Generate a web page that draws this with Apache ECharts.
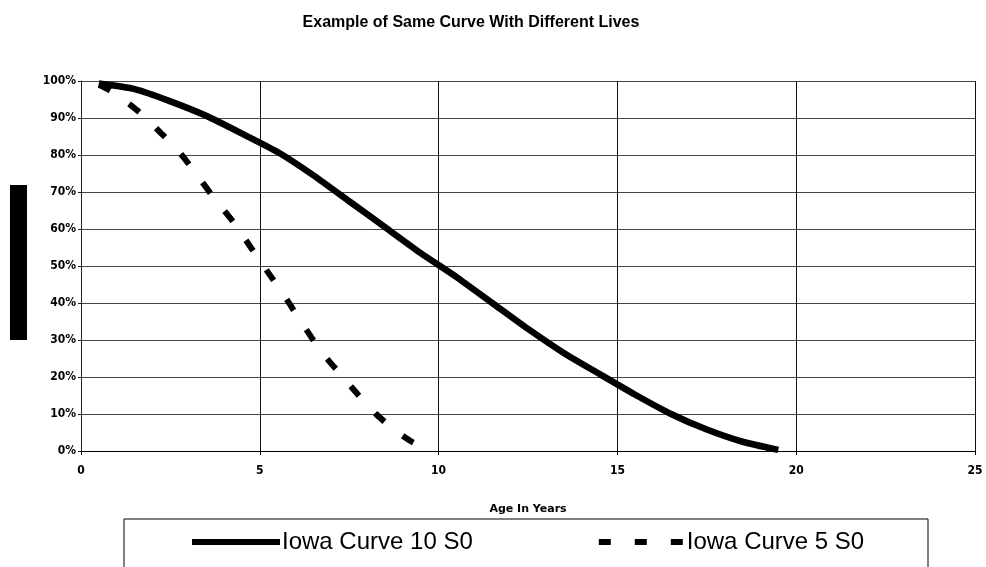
<!DOCTYPE html>
<html>
<head>
<meta charset="utf-8">
<script src="https://cdn.jsdelivr.net/npm/echarts@6/dist/echarts.min.js"></script>
<style>
  html, body { margin: 0; padding: 0; background: #fff; }
  #chart { width: 986px; height: 567px; }
</style>
</head>
<body>
<div id="chart"></div>
<script>
// Iowa Curve 10 S0 - percent surviving by age
const ages10 = [0.5, 1.5, 2.5, 3.5, 4.5, 5.5, 6.5, 7.5, 8.5, 9.5,
  10.5, 11.5, 12.5, 13.5, 14.5, 15.5, 16.5, 17.5, 18.5, 19.5];
const surviving10 = [99.3, 97.8, 94.5, 90.6, 85.8, 80.8, 74.5, 67.5, 60.5, 53.5,
  47, 40, 33, 26.5, 20.8, 15.2, 10, 5.8, 2.5, 0.3];

// Iowa Curve 5 S0
const ages5 = [0.5, 0.75, 1.25, 1.75, 2.25, 2.75, 3.25, 3.75, 4.25, 4.75,
  5.25, 5.75, 6.25, 6.75, 7.25, 7.75, 8.25, 8.75, 9.25, 9.6];
const surviving5 = [99, 97.8, 94.5, 90.6, 85.8, 80.8, 74.5, 68, 62, 55,
  48, 41, 33.5, 26.5, 20.8, 15.2, 10, 5.8, 2.5, 0.8];

const seriesNames = ["Iowa Curve 10 S0", "Iowa Curve 5 S0"];
const xTicks = { min: 0, max: 25, step: 5 };
const yTicks = { min: 0, max: 100, step: 10 };

const zip = (xs, ys) => xs.map((x, i) => [x, ys[i]]);

const labelFont = "'Liberation Sans Narrow', 'DejaVu Sans Condensed', 'Liberation Sans', sans-serif";

const chart = echarts.init(document.getElementById("chart"));
chart.setOption({
  animation: false,
  backgroundColor: "#fff",
  title: {
    text: "Example of Same Curve With Different Lives",
    left: 466,
    top: 10,
    textAlign: "center",
    textStyle: {
      fontFamily: "'Liberation Sans', Arial, sans-serif",
      fontWeight: "bold",
      fontSize: 16,
      color: "#000"
    }
  },
  grid: {
    left: 81,
    top: 81,
    width: 894,
    height: 370
  },
  legend: {
    left: 187,
    top: 525,
    itemWidth: 88,
    itemHeight: 6,
    itemGap: 126,
    textStyle: {
      fontFamily: "'Liberation Sans', Arial, sans-serif",
      fontSize: 24,
      color: "#000",
      padding: [0, 0, 0, -3]
    },
    data: [
      { name: seriesNames[0], icon: "rect" },
      {
        name: seriesNames[1],
        icon: "path://M0,0h12v6h-12z M36,0h12v6h-12z M72,0h12v6h-12z"
      }
    ]
  },
  xAxis: {
    type: "value",
    min: xTicks.min,
    max: xTicks.max,
    interval: xTicks.step,
    name: "Age In Years",
    nameLocation: "middle",
    nameGap: 53,
    nameTextStyle: {
      fontFamily: "'DejaVu Sans', sans-serif",
      fontWeight: "bold",
      fontSize: 11,
      color: "#000"
    },
    axisLine: { show: true, lineStyle: { color: "#000", width: 1 } },
    axisTick: { show: true, length: 4, lineStyle: { color: "#000" } },
    axisLabel: {
      margin: 14,
      fontFamily: labelFont,
      fontWeight: "bold",
      fontSize: 12,
      color: "#000"
    },
    splitLine: { show: true, lineStyle: { color: "#111", width: 1 } }
  },
  yAxis: {
    type: "value",
    min: yTicks.min,
    max: yTicks.max,
    interval: yTicks.step,
    axisLine: { show: true, lineStyle: { color: "#222", width: 1 } },
    axisTick: { show: true, length: 3, lineStyle: { color: "#222" } },
    axisLabel: {
      margin: 5,
      formatter: "{value}%",
      fontFamily: labelFont,
      fontWeight: "bold",
      fontSize: 12,
      color: "#000"
    },
    splitLine: { show: true, lineStyle: { color: "#444", width: 1 } }
  },
  graphic: [
    {
      type: "rect",
      shape: { x: 10, y: 185, width: 17, height: 155 },
      style: { fill: "#000" }
    },
    {
      type: "rect",
      shape: { x: 124, y: 519, width: 804, height: 70 },
      style: { fill: "none", stroke: "#000", lineWidth: 1 },
      z: -1
    }
  ],
  series: [
    {
      name: seriesNames[0],
      type: "line",
      showSymbol: false,
      symbol: "none",
      smooth: 0.2,
      lineStyle: { color: "#000", width: 6.5, type: "solid", cap: "butt" },
      itemStyle: { color: "#000" },
      data: zip(ages10, surviving10)
    },
    {
      name: seriesNames[1],
      type: "line",
      showSymbol: false,
      symbol: "none",
      smooth: 0.2,
      lineStyle: { color: "#000", width: 6, type: [13, 23], cap: "butt" },
      itemStyle: { color: "#000" },
      data: zip(ages5, surviving5)
    }
  ]
});
</script>
</body>
</html>
